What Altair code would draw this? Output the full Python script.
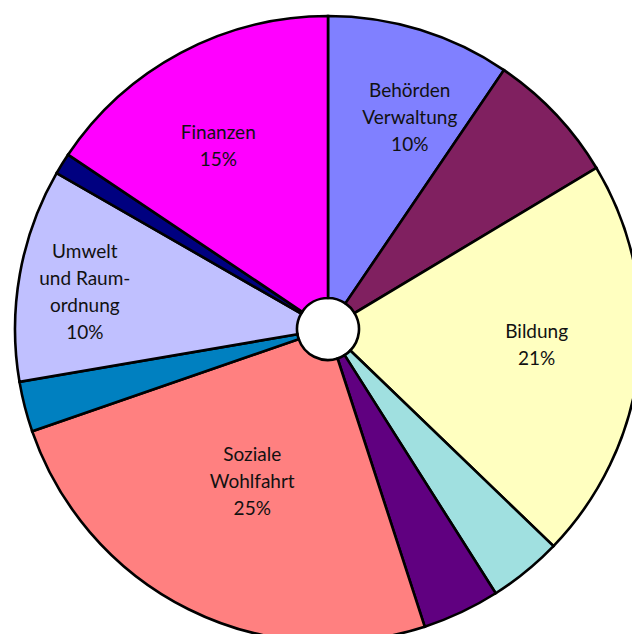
import altair as alt
import pandas as pd

# ---- data (clockwise from 12 o'clock) ----
categories = [
    "Behörden Verwaltung",
    "Öffentliche Sicherheit",
    "Bildung",
    "Kultur und Freizeit",
    "Gesundheit",
    "Soziale Wohlfahrt",
    "Verkehr",
    "Umwelt und Raumordnung",
    "Volkswirtschaft",
    "Finanzen",
]
values = [9.5, 6.9, 20.8, 3.8, 4.0, 24.7, 2.6, 11.0, 1.1, 15.6]
labels = [
    "Behörden\nVerwaltung\n10%",
    "",
    "Bildung\n21%",
    "",
    "",
    "Soziale\nWohlfahrt\n25%",
    "",
    "Umwelt\nund Raum-\nordnung\n10%",
    "",
    "Finanzen\n15%",
]
colors = [
    "#8080FF", "#802060", "#FFFFC0", "#A0E0E0", "#600080",
    "#FF8080", "#0080C0", "#C0C0FF", "#000080", "#FF00FF",
]

# ---- styling ----
CX, CY = 320, 321
OUTER_R, INNER_R = 313, 31
FONT = "Lato"
FONT_SIZE = 19
LINE_H = 27
# label placement (radius, dx, dy) per labelled slice
label_style = {
    "Behörden Verwaltung": (227, 15, 6),
    "Bildung": (210, 0, -7),
    "Soziale Wohlfahrt": (170, 0, 1),
    "Umwelt und Raumordnung": (246, -1, 7),
    "Finanzen": (214, -9, 6),
}
n_lines = {c: l.count("\n") + 1 for c, l in zip(categories, labels)}

df = pd.DataFrame({
    "cat": categories,
    "value": values,
    "label": labels,
    "idx": list(range(len(categories))),
})

theta_scale = alt.Scale(domain=[0, 1], range=[0, 6.283185307179586], zero=True, nice=False)

base = alt.Chart(df).transform_joinaggregate(
    total="sum(value)"
).transform_window(
    cum="sum(value)", sort=[alt.SortField("idx")], frame=[None, 0]
).transform_calculate(
    f_end="datum.cum / datum.total",
    f_start="(datum.cum - datum.value) / datum.total",
    f_mid="(datum.cum - datum.value / 2) / datum.total",
)

pie = base.mark_arc(
    outerRadius=OUTER_R, innerRadius=INNER_R, stroke="black", strokeWidth=2.6
).encode(
    theta=alt.Theta("f_start:Q", scale=theta_scale),
    theta2=alt.Theta2("f_end:Q"),
    color=alt.Color("cat:N", scale=alt.Scale(domain=categories, range=colors), legend=None),
    x=alt.value(CX),
    y=alt.value(CY),
)

layers = [pie]
for cat, (r, dx, dy) in label_style.items():
    block_shift = (n_lines[cat] - 1) * LINE_H / 2
    layers.append(
        base.transform_filter(alt.datum.cat == cat).mark_text(
            radius=r, dx=dx, dy=dy - block_shift, font=FONT, fontSize=FONT_SIZE,
            lineHeight=LINE_H, lineBreak="\n", color="#111111",
            align="center", baseline="middle",
        ).encode(
            theta=alt.Theta("f_mid:Q", scale=theta_scale, stack=False),
            text="label:N",
            x=alt.value(CX),
            y=alt.value(CY),
        )
    )

chart = alt.layer(*layers).properties(
    width=624, height=626, padding=0,
    autosize=alt.AutoSizeParams(type="none"),
).configure_view(stroke=None)

chart.save("out.html", embed_options={"renderer": "svg", "actions": False})
